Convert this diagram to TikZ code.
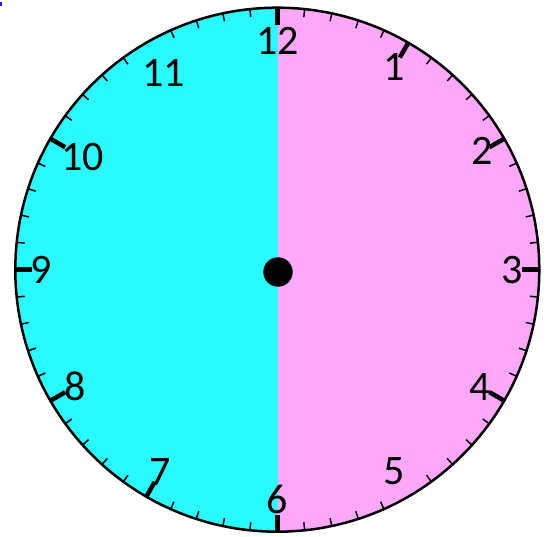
\documentclass[tikz,border=0pt]{standalone}
\usepackage{fontspec}
\setmainfont{Carlito}
\usetikzlibrary{positioning}
\definecolor{dialcyan}{HTML}{28FAFF}
\definecolor{dialpink}{HTML}{FFA8FA}
\definecolor{markblue}{HTML}{2020FF}

\begin{document}
\begin{tikzpicture}[x=1pt, y=1pt,
    minortick/.style={line width=1.5pt},
    majortick/.style={line width=4.5pt},
    hourlabel/.style={font=\fontsize{42}{46}\selectfont, inner sep=0pt}]
    \useasboundingbox (-277.3,-267.3) rectangle (272.7,269.7);
    \fill[markblue] (-277.3,264) rectangle (-275,267.7);

    % two halves of the face
    \fill[dialcyan] (0.5,262) -- (0.5,-262) arc[start angle=-90, end angle=-270, radius=262] -- cycle;
    \fill[dialpink] (0.5,262) -- (0.5,-262) arc[start angle=-90, end angle=90, radius=262] -- cycle;

    % no marks at 5 and 11
    \foreach \m in {0,...,59} {
        \ifnum\m=20 \else\ifnum\m=50 \else
            \draw[minortick] (\m*6:254) -- (\m*6:262);
        \fi\fi
    }
    \foreach \h in {1,2,3,4,6,7,8,9,10,12}
        \draw[majortick] ({90-\h*30}:245) -- ({90-\h*30}:262);
    \draw[line width=2.5pt] (0,0) circle[radius=262];

    \foreach \h/\r in {1/234, 2/237, 3/235, 4/234, 5/233, 6/230, 7/234, 8/234, 9/236, 10/225, 11/227, 12/229}
        \node[hourlabel] (h\h) at ({90-\h*30}:\r) {\h};

    \node[circle, fill=black, minimum size=29.4pt, inner sep=0pt] (hub) at (0.7,-2.3) {};
\end{tikzpicture}
\end{document}
